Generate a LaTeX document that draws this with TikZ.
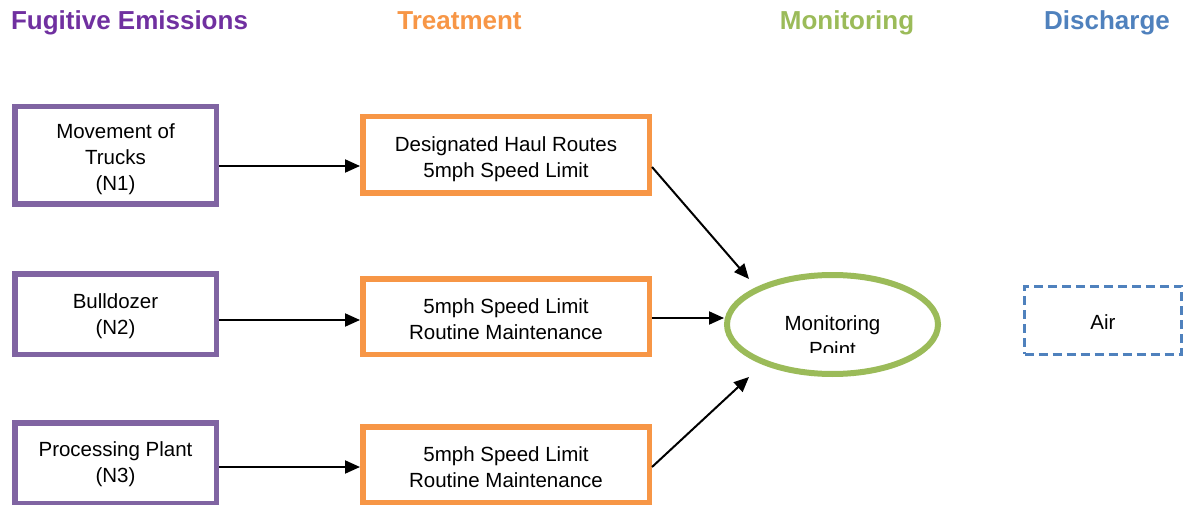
\documentclass[tikz,border=0pt]{standalone}
\usepackage{fontspec}
\setmainfont{Liberation Sans}
\usetikzlibrary{shapes.geometric,arrows.meta,calc}
\definecolor{ppurple}{HTML}{8064A2}
\definecolor{hpurple}{HTML}{7030A0}
\definecolor{porange}{HTML}{F79646}
\definecolor{pgreen}{HTML}{9BBB59}
\definecolor{pblue}{HTML}{4F81BD}
\tikzset{
  bodyfont/.style={font=\fontsize{20.5}{26}\selectfont},
  headfont/.style={font=\fontsize{26}{30}\selectfont\bfseries, anchor=base},
  boxtext/.style={bodyfont, align=center, inner sep=0pt},
  srcbox/.style={draw=ppurple, line width=5.5pt, rectangle, minimum width=201.5pt, inner sep=0pt},
  trtbox/.style={draw=porange, line width=5.5pt, rectangle, minimum width=286.5pt, inner sep=0pt},
  monell/.style={draw=pgreen, line width=6pt, ellipse, minimum width=211pt, minimum height=99pt, inner sep=0pt},
  disbox/.style={draw=pblue, line width=3pt, dash pattern=on 9pt off 5pt, rectangle, minimum width=157pt, minimum height=68pt, inner sep=0pt},
  arr/.style={line width=2pt, -{Triangle[length=15pt,width=13pt]}}
}
\begin{document}
\begin{tikzpicture}[x=1pt,y=-1pt]
\useasboundingbox (0,0) rectangle (1186,505);
% headings
\node[headfont, text=hpurple] (h1) at (129.5,30) {Fugitive Emissions};
\node[headfont, text=porange] (h2) at (459.5,30) {Treatment};
\node[headfont, text=pgreen] (h3) at (847,30) {Monitoring};
\node[headfont, text=pblue] (h4) at (1107,30) {Discharge};
% source boxes
\node[srcbox, minimum height=97.5pt, label={[boxtext, yshift=-3.5pt]center:{Movement of\\Trucks\\(N1)}}] (p1) at (115.5,155.5) {};
\node[srcbox, minimum height=80.5pt, label={[boxtext, yshift=-2.5pt]center:{Bulldozer\\(N2)}}] (p2) at (115.5,314) {};
\node[srcbox, minimum height=80.5pt, label={[boxtext, yshift=-1.5pt]center:{Processing Plant\\(N3)}}] (p3) at (115.5,463) {};
% treatment boxes
\node[trtbox, minimum height=76.5pt, label={[boxtext, yshift=-4.5pt]center:{Designated Haul Routes\\5mph Speed Limit}}] (t1) at (506,155) {};
\node[trtbox, minimum height=75.5pt, label={[boxtext, yshift=-3pt]center:{5mph Speed Limit\\Routine Maintenance}}] (t2) at (506,316.5) {};
\node[trtbox, minimum height=75.5pt, label={[boxtext, yshift=-3pt]center:{5mph Speed Limit\\Routine Maintenance}}] (t3) at (506,464.5) {};
% monitoring ellipse
\node[monell] (mp) at (832.5,324.5) {};
\begin{scope}
\clip (726,290) rectangle (940,352);
\node[boxtext] (mpt) at (832.5,336) {Monitoring\\Point};
\end{scope}
% discharge
\node[disbox, label={[boxtext, yshift=-2pt]center:Air}] (air) at (1103,320) {};
% connectors
\draw[arr] (p1.east |- 0,166) -- (t1.west |- 0,166);
\draw[arr] (p2.east |- 0,320) -- (t2.west |- 0,320);
\draw[arr] (p3.east |- 0,467) -- (t3.west |- 0,467);
\draw[arr] (t1.east |- 0,167) -- ($(mp.center)+(-83.5,-45.5)$);
\draw[arr] (t2.east |- 0,318) -- (mp.west |- 0,318);
\draw[arr] (t3.east |- 0,467) -- ($(mp.center)+(-83.5,52.5)$);
\end{tikzpicture}
\end{document}
